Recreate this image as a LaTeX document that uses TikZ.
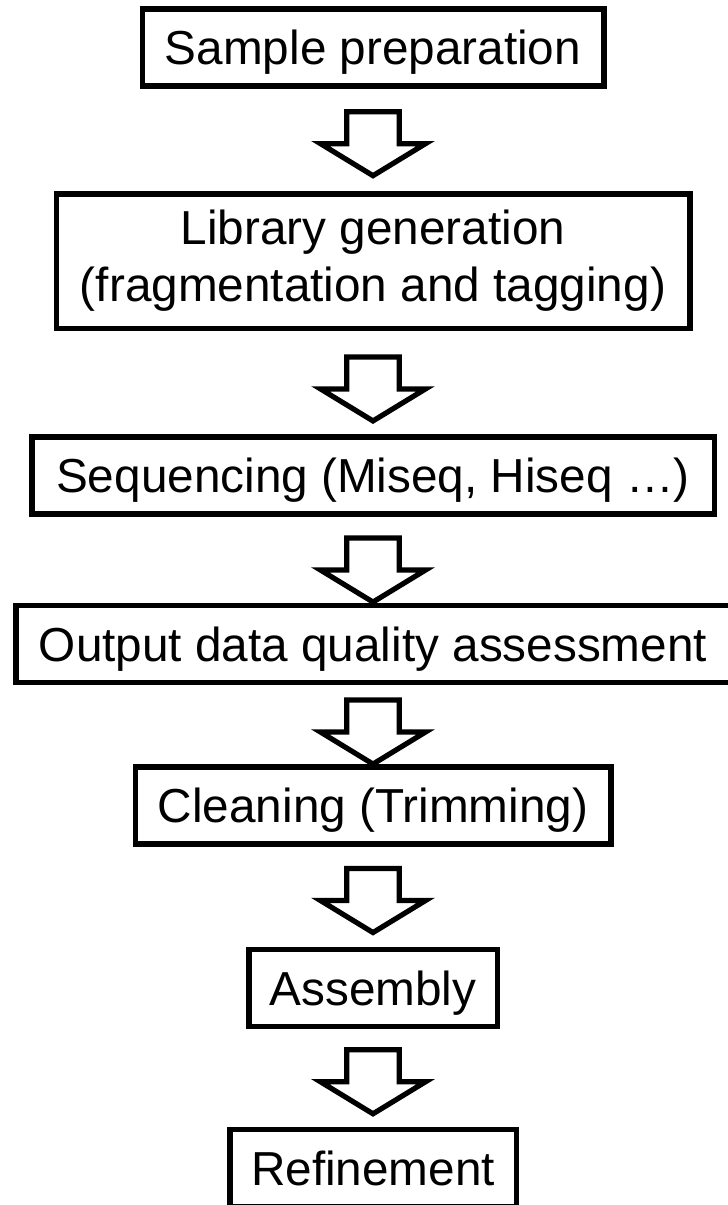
\documentclass[tikz,border=0pt]{standalone}
\usepackage{fontspec}
\setmainfont{Liberation Sans}
\usetikzlibrary{calc}

\tikzset{
  stepbox/.style={draw, line width=2.75pt, inner sep=0pt, minimum height=38.5pt,
    align=center, font=\fontsize{23.85}{28.5}\selectfont},
  oneline/.style={stepbox, text height=22.2pt, text depth=5.1pt},
  hollow/.style={draw, line width=2.6pt, line join=miter, fill=white},
}

% hollow block arrow between two boxes, [extra downward shift]
\newcommand{\flowarrow}[3][0pt]{%
  \draw[hollow] let \p1=($(#2.south)!0.5!(#3.north)+(0,-1pt)+(0,-#1)$) in
    (\x1-13.1pt,\y1+15.1pt) -- (\x1+13.1pt,\y1+15.1pt) -- (\x1+13.1pt,\y1-0.9pt)
    -- (\x1+26.25pt,\y1-0.9pt) -- (\x1,\y1-16.9pt) -- (\x1-26.25pt,\y1-0.9pt)
    -- (\x1-13.1pt,\y1-0.9pt) -- cycle;}

\begin{document}
\begin{tikzpicture}[x=0.5pt, y=-0.5pt]
    \useasboundingbox (0,0) rectangle (728,1205);
    % boxes
    \node[oneline, minimum width=230.75pt] (sample) at (373,47.5) {Sample preparation};
    \node[stepbox, minimum width=316.75pt, minimum height=67.25pt] (library) at (373,261)
        {Library generation\\(fragmentation and tagging)};
    \node[oneline, minimum width=341.25pt] (seq) at (373,475.5) {Sequencing (Miseq, Hiseq …)};
    \node[oneline, minimum width=357.25pt] (qc) at (373,644) {Output data quality assessment};
    \node[oneline, minimum width=237.75pt] (clean) at (373,805.5) {Cleaning (Trimming)};
    \node[oneline, minimum width=124.25pt] (assembly) at (373,988) {Assembly};
    \node[oneline, minimum width=143.25pt] (refine) at (373,1168) {Refinement};
    % arrows
    \flowarrow{sample}{library}
    \flowarrow[1.25pt]{library}{seq}
    \flowarrow[3.25pt]{seq}{qc}
    \flowarrow[1.75pt]{qc}{clean}
    \flowarrow{clean}{assembly}
    \flowarrow{assembly}{refine}
\end{tikzpicture}
\end{document}
